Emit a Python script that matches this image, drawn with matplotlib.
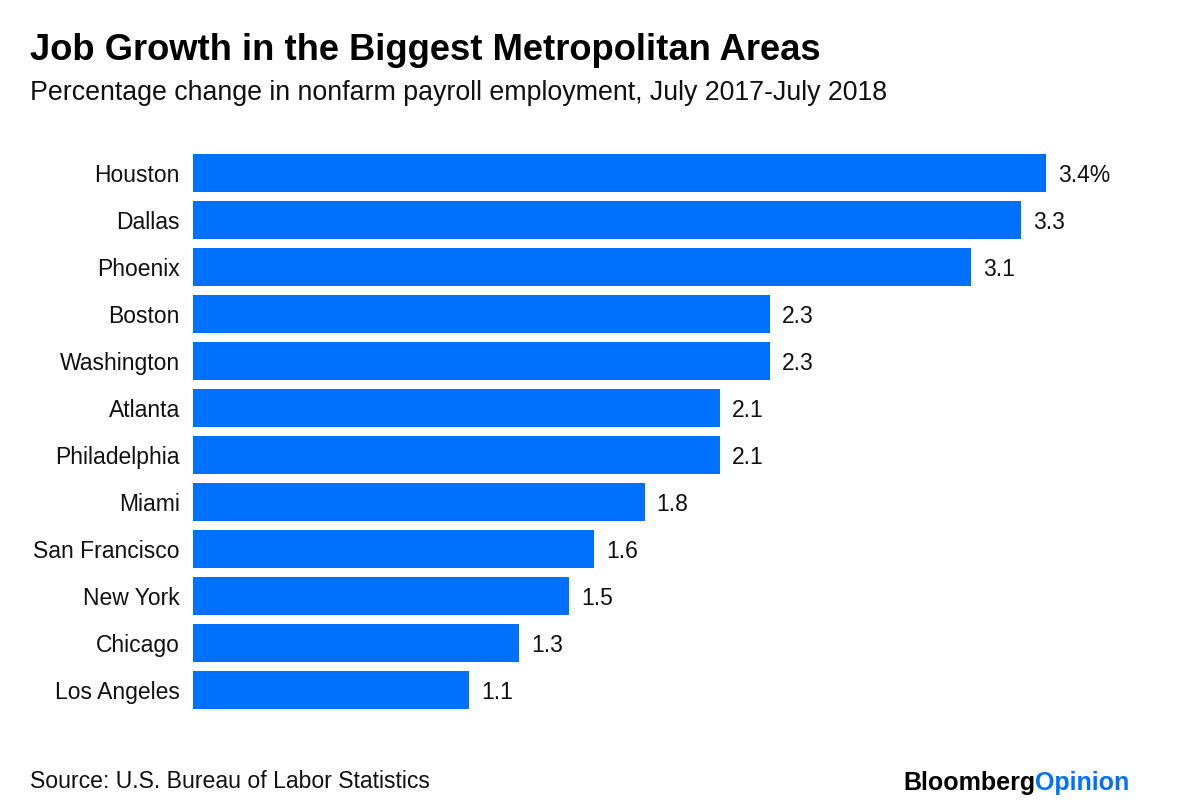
import matplotlib
matplotlib.use("Agg")
import matplotlib.pyplot as plt

cities = ["Houston", "Dallas", "Phoenix", "Boston", "Washington", "Atlanta",
          "Philadelphia", "Miami", "San Francisco", "New York", "Chicago", "Los Angeles"]
values = [3.4, 3.3, 3.1, 2.3, 2.3, 2.1, 2.1, 1.8, 1.6, 1.5, 1.3, 1.1]
value_labels = ["3.4%", "3.3", "3.1", "2.3", "2.3", "2.1", "2.1", "1.8", "1.6", "1.5", "1.3", "1.1"]

title = "Job Growth in the Biggest Metropolitan Areas"
subtitle = "Percentage change in nonfarm payroll employment, July 2017-July 2018"
source = "Source: U.S. Bureau of Labor Statistics"

BLUE = "#0070FF"
TXT = "#111111"
plt.rcParams['font.family'] = ['Liberation Sans', 'DejaVu Sans']

W, H = 1200, 810
fig = plt.figure(figsize=(12, 8.1), dpi=100)

left_px, right_px = 193, 1150
top_px, bot_px = 149.5, 713.5
ax = fig.add_axes([left_px / W, 1 - bot_px / H, (right_px - left_px) / W, (bot_px - top_px) / H])
ppu = (1046 - 193) / 3.4
ax.set_xlim(0, (right_px - left_px) / ppu)
ypos = list(range(len(cities)))
ax.barh(ypos, values, height=0.79, color=BLUE)
ax.set_ylim(len(cities) - 0.5, -0.5)
ax.set_yticks(ypos)
ax.set_yticklabels(cities, fontsize=16.5, color=TXT)
ax.tick_params(axis='y', length=0, pad=9.4)
ax.set_xticks([])
for s in ax.spines.values():
    s.set_visible(False)

for y, v, lab in zip(ypos, values, value_labels):
    ax.annotate(lab, xy=(v, y), xytext=(12, 0), textcoords="offset pixels",
                ha="left", va="center_baseline", fontsize=16.5, color=TXT)

fig.text(30 / W, 1 - 50 / H, title, fontsize=26.2, fontweight="bold", ha="left", va="center", color="#000000")
fig.text(30 / W, 1 - 93 / H, subtitle, fontsize=19.3, ha="left", va="center", color=TXT)
fig.text(30 / W, 1 - 782 / H, source, fontsize=16.6, ha="left", va="center", color=TXT)

t1 = fig.text(903 / W, 1 - 783 / H, "Bloomberg", fontsize=18, fontweight="bold", ha="left", va="center", color="#000000")
fig.canvas.draw()
bb = t1.get_window_extent()
fig.text(bb.x1 / W, 1 - 783 / H, "Opinion", fontsize=18, fontweight="bold", ha="left", va="center", color=BLUE)

fig.savefig("out.png", dpi=100)
